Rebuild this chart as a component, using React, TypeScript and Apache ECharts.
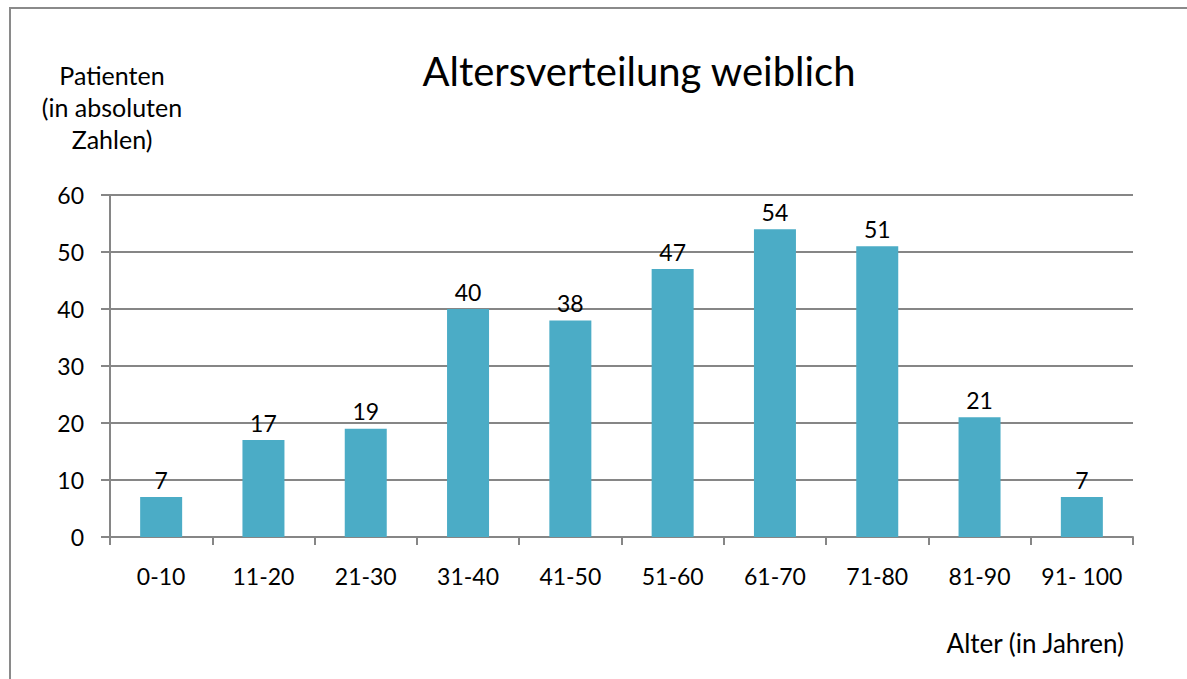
import React, { useEffect, useRef } from "react";
import * as echarts from "echarts";

const categories = ["0-10", "11-20", "21-30", "31-40", "41-50", "51-60", "61-70", "71-80", "81-90", "91- 100"];
const patients = [7, 17, 19, 40, 38, 47, 54, 51, 21, 7];
const yTicks = { min: 0, max: 60, interval: 10 };

const FONT = "Lato, 'Open Sans', sans-serif";
const GREY = "#868686";

export default function App() {
  const ref = useRef<HTMLDivElement>(null);

  useEffect(() => {
    document.body.style.margin = "0";
    const chart = echarts.init(ref.current!, null, { renderer: "svg" });
    chart.setOption({
      animation: false,
      backgroundColor: "#ffffff",
      textStyle: { fontFamily: FONT, color: "#000" },
      title: {
        text: "Altersverteilung weiblich",
        left: 634,
        top: 46,
        textAlign: "center",
        textStyle: { fontFamily: FONT, fontSize: 40, fontWeight: "normal", color: "#000" },
      },
      graphic: [
        {
          type: "rect",
          shape: { x: 10, y: 8, width: 1220, height: 720 },
          style: { fill: "none", stroke: "#8a8a8a", lineWidth: 2 },
          silent: true,
        },
        {
          type: "text",
          x: 112,
          y: 59,
          style: {
            text: "Patienten\n(in absoluten\nZahlen)",
            align: "center",
            fontFamily: FONT,
            fontSize: 25,
            lineHeight: 32,
            fill: "#000",
          },
        },
        {
          type: "text",
          x: 1124,
          y: 643,
          style: {
            text: "Alter (in Jahren)",
            align: "right",
            verticalAlign: "middle",
            fontFamily: FONT,
            fontSize: 26,
            fill: "#000",
          },
        },
      ],
      grid: { left: 110, right: 54, top: 195, bottom: 142, containLabel: false },
      xAxis: {
        type: "category",
        data: categories,
        axisLine: { show: true, lineStyle: { color: GREY, width: 2 } },
        axisTick: { show: true, inside: false, length: 8, alignWithLabel: false, lineStyle: { color: GREY, width: 2 } },
        axisLabel: { fontFamily: FONT, fontSize: 23, color: "#000", margin: 27, interval: 0 },
        splitLine: { show: false },
      },
      yAxis: {
        type: "value",
        min: yTicks.min,
        max: yTicks.max,
        interval: yTicks.interval,
        axisLine: { show: true, lineStyle: { color: GREY, width: 2 } },
        axisTick: { show: true, length: 9, lineStyle: { color: GREY, width: 2 } },
        axisLabel: { fontFamily: FONT, fontSize: 23, color: "#000", margin: 26 },
        splitLine: { show: true, lineStyle: { color: GREY, width: 2 } },
      },
      series: [
        {
          type: "bar",
          data: patients,
          barWidth: 42,
          itemStyle: { color: "#4BACC6" },
          label: {
            show: true,
            position: "top",
            distance: 6,
            fontFamily: FONT,
            fontSize: 23,
            color: "#000",
          },
        },
      ],
    });
    return () => chart.dispose();
  }, []);

  return (
    <div
      ref={ref}
      style={{ position: "absolute", left: 0, top: 0, width: 1187, height: 679 }}
    />
  );
}
